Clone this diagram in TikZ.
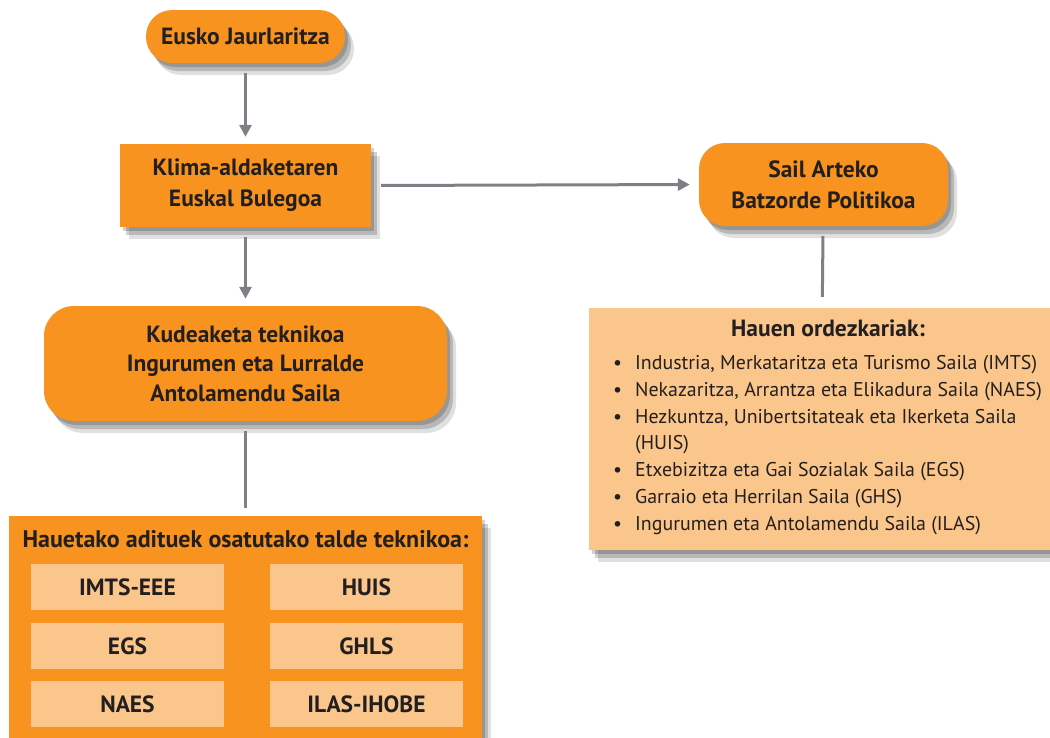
\documentclass[tikz,border=0pt]{standalone}
\usepackage{fontspec}
\setmainfont{PT Sans}
\usetikzlibrary{positioning,shadows,arrows.meta}
\definecolor{laranja}{HTML}{F7931E}
\definecolor{laranjargi}{HTML}{FBC68B}
\definecolor{gezigris}{HTML}{7F7F85}
\definecolor{testua}{HTML}{231F20}

\begin{document}
\begin{tikzpicture}[x=1pt, y=-1pt,
    itzala/.style={drop shadow={shadow xshift=3pt, shadow yshift=-4pt, opacity=.18, fill=black},
                   drop shadow={shadow xshift=6pt, shadow yshift=-8pt, opacity=.18, fill=black},
                   drop shadow={shadow xshift=9pt, shadow yshift=-12pt, opacity=.12, fill=black}},
    kutxa/.style={fill=laranja, text=testua, align=center, inner sep=0pt, itzala,
                  font=\fontsize{23.5}{31}\selectfont\bfseries},
    kutxargi/.style={fill=laranjargi, text=testua, inner sep=0pt, minimum width=193, minimum height=46,
                  font=\fontsize{23.5}{31}\selectfont\bfseries},
    gezia/.style={draw=gezigris, line width=3pt, shorten <=10pt, shorten >=7pt,
                  -{Triangle[length=12pt,width=12pt]}},
    lerroa/.style={draw=gezigris, line width=3pt, shorten <=10pt, shorten >=8pt}]
    \useasboundingbox (0,0) rectangle (1050,737);

    \node [kutxa, rounded corners=26pt, minimum width=199, minimum height=53] (eusko) at (245.5,36.5) {Eusko Jaurlaritza};
    \node [kutxa, minimum width=251, minimum height=83] (klima) at (245.5,185.5) {Klima-aldaketaren\\Euskal Bulegoa};
    \node [kutxa, rounded corners=30pt, minimum width=403, minimum height=115,
           font=\fontsize{23.5}{29.5}\selectfont\bfseries] (kudeaketa) at (245.5,363.5)
        {Kudeaketa teknikoa\\Ingurumen eta Lurralde\\Antolamendu Saila};
    \node [kutxa, rounded corners=26pt, minimum width=249, minimum height=83] (sail) at (823.5,184.5) {Sail Arteko\\Batzorde Politikoa};

    % talde teknikoa
    \node [kutxa, minimum width=473, minimum height=240] (taldea) at (245.5,636) {};
    \node [text=testua, font=\fontsize{24}{31}\selectfont\bfseries] (taldeizena) at (245.5,539) {Hauetako adituek osatutako talde teknikoa:};
    \node [kutxargi] (imts) at (127.5,587) {IMTS-EEE};
    \node [kutxargi] (huis) at (366.5,587) {HUIS};
    \node [kutxargi] (egs) at (127.5,646) {EGS};
    \node [kutxargi] (ghls) at (366.5,646) {GHLS};
    \node [kutxargi] (naes) at (127.5,704) {NAES};
    \node [kutxargi] (ilas) at (366.5,704) {ILAS-IHOBE};

    % ordezkariak
    \node [fill=laranjargi, itzala, minimum width=464, minimum height=242, inner sep=0pt] (ordezkariak) at (821,429) {};
    \node [text=testua, font=\fontsize{23.5}{31}\selectfont\bfseries] (ordezkarizena) at (828,328) {Hauen ordezkariak:};
    \node [text=testua, anchor=north west, inner sep=0pt, font=\fontsize{19.9}{26.7}\selectfont] (zerrenda) at (613,351)
      {\begin{tabular}{@{}c@{\hspace{13pt}}l@{}}
        • & Industria, Merkataritza eta Turismo Saila (IMTS)\\
        • & Nekazaritza, Arrantza eta Elikadura Saila (NAES)\\
        • & Hezkuntza, Unibertsitateak eta Ikerketa Saila\\
          & (HUIS)\\
        • & Etxebizitza eta Gai Sozialak Saila (EGS)\\
        • & Garraio eta Herrilan Saila (GHS)\\
        • & Ingurumen eta Antolamendu Saila (ILAS)
      \end{tabular}};

    \draw [gezia] (eusko) -- (klima);
    \draw [gezia] (klima) -- (kudeaketa);
    \draw [gezia, shorten >=9pt] (klima.east) -- (sail.west);
    \draw [lerroa] (kudeaketa) -- (taldea);
    \draw [lerroa, shorten >=11pt] (sail) -- (ordezkariak);
\end{tikzpicture}
\end{document}
